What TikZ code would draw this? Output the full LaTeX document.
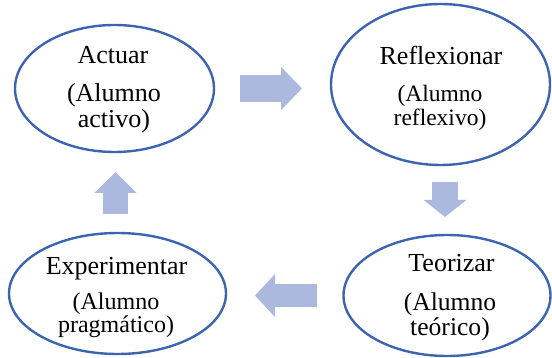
\documentclass[tikz,border=0pt]{standalone}
\usepackage{fontspec}
\setmainfont{Liberation Serif}
\usetikzlibrary{arrows.meta,shapes.geometric}

\definecolor{ringblue}{RGB}{60,100,176}
\definecolor{arrowblue}{RGB}{172,185,223}

\begin{document}
\begin{tikzpicture}[x=1pt,y=-1pt]
		% Styles
		\tikzset{
			stage/.style={ellipse, draw=ringblue, line width=2.4pt, inner sep=0pt},
			title/.style={anchor=base, inner sep=0pt, font=\fontsize{26}{26}\selectfont},
			sub/.style={anchor=base, inner sep=0pt, align=center},
			flow/.style={draw=arrowblue, line width=#1}
		}
		\useasboundingbox (0,0) rectangle (552,358);

		% Ellipses
		\node[stage, minimum width=199pt, minimum height=127pt] (actuar) at (114.5,88.5) {};
		\node[stage, minimum width=219pt, minimum height=161pt] (reflex) at (440.5,84.5) {};
		\node[stage, minimum width=207pt, minimum height=121pt] (teor) at (447,295.5) {};
		\node[stage, minimum width=217pt, minimum height=121pt] (exper) at (117.5,293.5) {};

		% Texts (sub nodes sit on the baseline of their last line)
		\node[title] (actuarT) at (113,64) {Actuar};
		\node[sub, font=\fontsize{26}{26}\selectfont] (actuarS) at (114,128) {(Alumno\\activo)};
		\node[title] (reflexT) at (441,65) {Reflexionar};
		\node[sub, font=\fontsize{23.5}{24}\selectfont] (reflexS) at (440,126) {(Alumno\\reflexivo)};
		\node[title] (teorT) at (451.5,272) {Teorizar};
		\node[sub, font=\fontsize{25.6}{25}\selectfont] (teorS) at (450,336) {(Alumno\\teórico)};
		\node[title] (experT) at (116.5,274.7) {Experimentar};
		\node[sub, font=\fontsize{24}{24}\selectfont] (experS) at (116,333) {(Alumno\\pragmático)};

		% Block arrows
		\coordinate (a1) at (240,88.5);
		\coordinate (a2) at (302,88.5);
		\coordinate (b1) at (445,182);
		\coordinate (b2) at (445,217);
		\coordinate (c1) at (317,295.5);
		\coordinate (c2) at (255,295.5);
		\coordinate (d1) at (115.5,214);
		\coordinate (d2) at (115.5,172);
		\draw[flow=27pt, -{Triangle[width=42pt,length=21pt]}, arrowblue] (a1) -- (a2);
		\draw[flow=26pt, -{Triangle[width=42pt,length=17pt]}, arrowblue] (b1) -- (b2);
		\draw[flow=23pt, -{Triangle[width=42pt,length=20pt]}, arrowblue] (c1) -- (c2);
		\draw[flow=25pt, -{Triangle[width=41pt,length=21pt]}, arrowblue] (d1) -- (d2);

	\end{tikzpicture}
\end{document}
